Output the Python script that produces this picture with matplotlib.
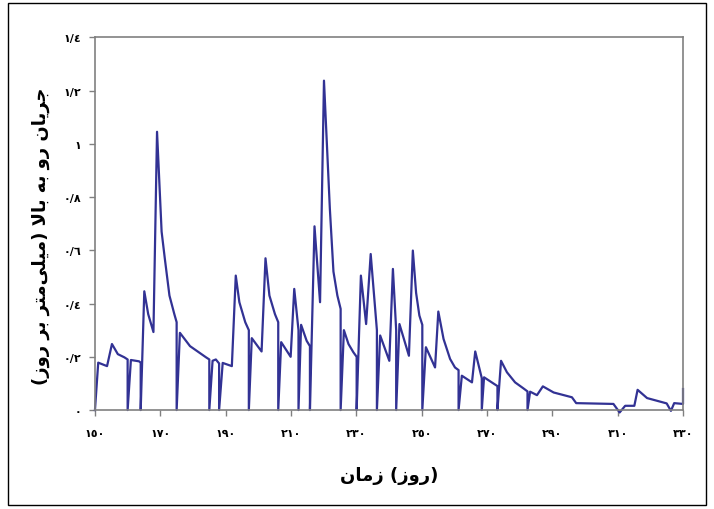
import matplotlib
matplotlib.use("Agg")
import matplotlib.pyplot as plt
from matplotlib.patches import Rectangle

# day of year and upward flow (mm/day)
days = [150, 151, 153.7, 155.2, 157, 159, 160, 160, 161, 163.5, 164, 164,
        165.1, 166.3, 167.9, 169.0, 170.4, 171.4, 172.8, 174.3, 175, 175,
        176, 179.1, 184, 185, 185, 186, 187, 188, 188, 189.1, 191.9, 193.1,
        194.2, 196, 197.1, 197.1, 198, 201, 202.2, 203.4, 205.1, 206.1, 206.1,
        207, 209.9, 211, 212.3, 212.3, 213.1, 214.8, 215.8, 215.8, 217.2,
        218.9, 220.1, 221.9, 223, 224.2, 225.2, 225.2, 226.2, 227.6, 229.1,
        230.1, 230.1, 231.4, 233, 234.4, 236.3, 236.3, 237.3, 240.1, 241.2,
        242.2, 242.2, 243.2, 246.1, 247.3, 248.3, 249.3, 250.2, 250.2, 251.3,
        254.1, 255.1, 256.7, 258.7, 260.2, 261.3, 261.3, 262.3, 265.4, 266.4,
        268.4, 268.4, 269.1, 272.2, 273.2, 273.2, 274.3, 276.1, 278.6, 281.2,
        282.4, 282.4, 283.2, 285.3, 287.1, 290.4, 296, 297.3, 308.7, 310.6,
        312.3, 315.1, 316.1, 319, 325, 326.3, 327.3, 330, 330]
flow = [0, 0.178, 0.165, 0.248, 0.21, 0.198, 0.19, 0, 0.188, 0.183, 0.178, 0,
        0.446, 0.36, 0.293, 1.045, 0.67, 0.567, 0.43, 0.36, 0.33, 0,
        0.29, 0.24, 0.198, 0.19, 0, 0.185, 0.19, 0.175, 0, 0.177, 0.165, 0.505,
        0.405, 0.33, 0.3, 0, 0.27, 0.22, 0.57, 0.43, 0.36, 0.33, 0,
        0.255, 0.2, 0.455, 0.3, 0, 0.32, 0.26, 0.24, 0, 0.69,
        0.405, 1.237, 0.756, 0.52, 0.43, 0.38, 0, 0.3, 0.248, 0.217,
        0.2, 0, 0.505, 0.323, 0.586, 0.3, 0, 0.28, 0.185, 0.53,
        0.3, 0, 0.323, 0.204, 0.599, 0.44, 0.355, 0.32, 0, 0.236,
        0.16, 0.37, 0.267, 0.192, 0.16, 0.15, 0, 0.129, 0.104, 0.22,
        0.12, 0, 0.123, 0.098, 0.09, 0, 0.185, 0.142, 0.104, 0.081,
        0.07, 0, 0.069, 0.056, 0.089, 0.066, 0.048, 0.026, 0.023, -0.009,
        0.016, 0.016, 0.076, 0.045, 0.025, -0.003, 0.026, 0.023, 0.079]

x_ticks = list(range(150, 331, 20))
y_ticks = [0, 0.2, 0.4, 0.6, 0.8, 1.0, 1.2, 1.4]

x_title = "زمان (روز)"
y_title = "جریان رو به بالا (میلی\u200cمتر بر روز)"

# minimal arabic shaping, since matplotlib draws glyphs one by one
FORMS = {
    'ا': ('\uFE8D', '\uFE8E', None, None),
    'ب': ('\uFE8F', '\uFE90', '\uFE91', '\uFE92'),
    'ت': ('\uFE95', '\uFE96', '\uFE97', '\uFE98'),
    'ج': ('\uFE9D', '\uFE9E', '\uFE9F', '\uFEA0'),
    'ر': ('\uFEAD', '\uFEAE', None, None),
    'ز': ('\uFEAF', '\uFEB0', None, None),
    'ل': ('\uFEDD', '\uFEDE', '\uFEDF', '\uFEE0'),
    'م': ('\uFEE1', '\uFEE2', '\uFEE3', '\uFEE4'),
    'ن': ('\uFEE5', '\uFEE6', '\uFEE7', '\uFEE8'),
    'ه': ('\uFEE9', '\uFEEA', '\uFEEB', '\uFEEC'),
    'و': ('\uFEED', '\uFEEE', None, None),
    'ی': ('\uFBFC', '\uFBFD', '\uFBFE', '\uFBFF'),
}


def joins_next(c):
    return c in FORMS and FORMS[c][2] is not None


def shape(s):
    out = []
    i = 0
    while i < len(s):
        c = s[i]
        prev = s[i - 1] if i > 0 else ''
        nxt = s[i + 1] if i + 1 < len(s) else ''
        if c not in FORMS:
            if c != '\u200c':
                out.append(c)
            i += 1
            continue
        linked = joins_next(prev)
        if c == 'ل' and nxt == 'ا':
            out.append('\uFEFC' if linked else '\uFEFB')
            i += 2
            continue
        ahead = joins_next(c) and nxt in FORMS
        iso, fin, ini, med = FORMS[c]
        if linked and ahead:
            out.append(med)
        elif linked:
            out.append(fin)
        elif ahead:
            out.append(ini)
        else:
            out.append(iso)
        i += 1
    return out


def rtl(s):
    mirror = {'(': ')', ')': '('}
    return ''.join(mirror.get(c, c) for c in reversed(shape(s)))


def word_rtl(s):
    # words are right to left, but the reference keeps them in typed order
    return ' '.join(rtl(w) if '(' not in w else
                    '(' + rtl(w.strip('()')) + ')' for w in s.split(' '))


def fa_digits(v):
    txt = ('%g' % v).replace('.', '/')
    return ''.join(chr(0x660 + int(c)) if c.isdigit() else c for c in txt)


plt.rcParams['font.family'] = ['DejaVu Sans']

fig = plt.figure(figsize=(7.14, 5.1), dpi=100)
ax = fig.add_axes([0.133, 0.194, 0.8236, 0.731])

ax.plot(days, flow, color='#323294', linewidth=1.6, clip_on=False)

ax.set_xlim(150, 330)
ax.set_ylim(0, 1.4)
ax.set_xticks(x_ticks)
ax.set_xticklabels([fa_digits(v) for v in x_ticks], fontsize=8,
                   fontweight='bold')
ax.set_yticks(y_ticks)
ax.set_yticklabels([fa_digits(v) for v in y_ticks], fontsize=8,
                   fontweight='bold')
for s in ax.spines.values():
    s.set_color('#808080')
    s.set_linewidth(1.2)
ax.tick_params(axis='both', color='#808080', length=4, width=1)
ax.tick_params(axis='x', pad=9)
ax.tick_params(axis='y', pad=6)

ax.set_xlabel(word_rtl(x_title), fontsize=13, fontweight='bold', labelpad=20)
ax.set_ylabel(rtl(y_title), fontsize=13, fontweight='bold')
ax.yaxis.set_label_coords(-0.077, 0.47)

# outer frame of the chart area
fig.patches.append(Rectangle((0.011, 0.008), 0.978, 0.984,
                             transform=fig.transFigure, fill=False,
                             edgecolor='black', linewidth=1))

fig.savefig('out.png', dpi=100)
